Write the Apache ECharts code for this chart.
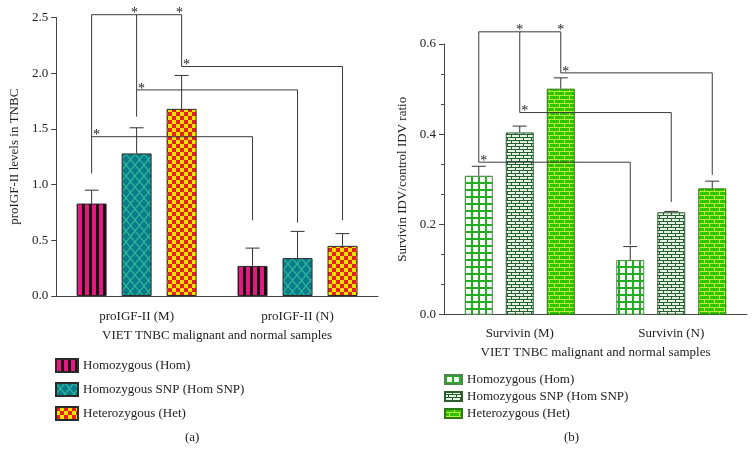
<!DOCTYPE html>
<html><head><meta charset="utf-8">
<script src="https://cdn.jsdelivr.net/npm/echarts@6/dist/echarts.min.js"></script>
<style>html,body{margin:0;padding:0;background:#fff}
#a{position:absolute;left:0;top:0;width:380px;height:451px}
#b{position:absolute;left:380px;top:0;width:375px;height:451px}</style>
</head><body><div id="a"></div><div id="b"></div>
<script>
// ---------- data ----------
const seriesNames = ['Homozygous (Hom)', 'Homozygous SNP (Hom SNP)', 'Heterozygous (Het)'];
const xAxisName = 'VIET TNBC malignant and normal samples';

// panel (a)
const categoriesA = ['proIGF-II (M)', 'proIGF-II (N)'];
const homA = [0.83, 0.27];
const snpA = [1.28, 0.34];
const hetA = [1.68, 0.45];
const homErrA = [0.12, 0.16];
const snpErrA = [0.23, 0.24];
const hetErrA = [0.30, 0.11];
const yMaxA = 2.5, yIntervalA = 0.5;
const topLevelA = 2.525;
// per series: [bracket level, M-side bottom, N-side bottom]
const bracketsA = [[1.43, 1.10, 0.68], [1.85, 1.61, 0.66], [2.06, 2.06, 0.68]];

// panel (b)
const categoriesB = ['Survivin (M)', 'Survivin (N)'];
const homB = [0.308, 0.121];
const snpB = [0.404, 0.227];
const hetB = [0.501, 0.280];
const homErrB = [0.021, 0.030];
const snpErrB = [0.014, 0.002];
const hetErrB = [0.024, 0.016];
const yMaxB = 0.6, yIntervalB = 0.2;
const topLevelB = 0.627;
const bracketsB = [[0.338, 0.338, 0.155], [0.448, 0.448, 0.25], [0.536, 0.536, 0.31]];

// ---------- helpers ----------
const FONT = 'Liberation Serif';
function pat(w, h, draw) {
  const c = document.createElement('canvas'); c.width = w; c.height = h;
  const g = c.getContext('2d'); draw(g, w, h);
  return { image: c, repeat: 'repeat' };
}
const patA = [
  pat(7, 7, g => { g.fillStyle = '#e2197e'; g.fillRect(0, 0, 7, 7); g.fillStyle = '#1c0a12'; g.fillRect(5, 0, 2, 7); g.fillRect(0, 0, 1, 7); }),
  pat(9, 11, g => { g.fillStyle = '#0b7b89'; g.fillRect(0, 0, 9, 11); g.strokeStyle = '#2bb89c'; g.lineWidth = 1.2;
    g.beginPath(); g.moveTo(0, 0); g.lineTo(9, 11); g.moveTo(9, 0); g.lineTo(0, 11); g.stroke(); }),
  pat(8, 8, g => { g.fillStyle = '#f6e200'; g.fillRect(0, 0, 8, 8); g.fillStyle = '#e6201b'; g.fillRect(0, 0, 4, 4); g.fillRect(4, 4, 4, 4); })
];
const patB = [
  pat(7, 7, g => { g.fillStyle = '#22ad22'; g.fillRect(0, 0, 7, 7); g.fillStyle = '#fbfffb'; g.fillRect(2, 2, 5, 5); }),
  pat(8, 6, g => { g.fillStyle = '#245f2c'; g.fillRect(0, 0, 8, 6); g.fillStyle = '#e6f2e6';
    g.fillRect(0, 0, 7, 2); g.fillRect(4, 3, 7, 2); g.fillRect(0, 3, 3, 2); }),
  pat(10, 8, g => { g.fillStyle = '#b4ee3c'; g.fillRect(0, 0, 10, 8); g.fillStyle = '#33c400';
    g.fillRect(0, 0, 9, 3); g.fillRect(5, 4, 9, 3); g.fillRect(0, 4, 4, 3); })
];

function buildSegments(top, br) {
  const seg = [[0, 0, top, 0, 2, top]];
  br.forEach((b, i) => {
    seg.push([0, i, top, 0, i, b[1]]);
    seg.push([0, i, b[0], 1, i, b[0]]);
    seg.push([1, i, b[0], 1, i, b[2]]);
  });
  return seg;
}
function buildStars(top, br) {
  const st = [[0, 1, top, 'top'], [0, 2, top, 'top']];
  br.forEach((b, i) => st.push([0, i, b[0], 'pair']));
  return st;
}

function makeOption(o) {
  const step = o.barWidth + o.gap;
  const xOf = (api, cat, s) => api.coord([cat, 0])[0] + (s - 1) * step;
  const yOf = (api, v) => api.coord([0, v])[1];
  const vals = [o.hom, o.snp, o.het], errs = [o.homErr, o.snpErr, o.hetErr];
  const errData = [];
  vals.forEach((arr, s) => arr.forEach((v, c) => errData.push([c, v + errs[s][c], s, v])));
  const segs = buildSegments(o.top, o.brackets);
  const stars = buildStars(o.top, o.brackets);
  const axisColor = '#444';
  const series = vals.map((arr, s) => ({
    type: 'bar', name: seriesNames[s], data: arr, barWidth: o.barWidth, barGap: (o.gap / o.barWidth * 100) + '%',
    itemStyle: { color: o.pats[s], borderColor: o.borders[s], borderWidth: 1 }, z: 2
  }));
  series.push({
    type: 'custom', name: 'err', data: errData, encode: { x: 0, y: 1 }, z: 3, clip: false,
    renderItem: (p, api) => {
      const d = errData[p.dataIndex];
      const x = xOf(api, d[0], d[2]), y1 = yOf(api, d[3]), y2 = yOf(api, d[1]);
      return { type: 'group', children: [
        { type: 'line', shape: { x1: x, y1: y1, x2: x, y2: y2 }, style: { stroke: '#333', lineWidth: 1 } },
        { type: 'line', shape: { x1: x - 7, y1: y2, x2: x + 7, y2: y2 }, style: { stroke: '#333', lineWidth: 1 } }
      ] };
    }
  });
  series.push({
    type: 'custom', name: 'brackets', data: segs, encode: { x: 0, y: 2 }, z: 4, clip: false,
    renderItem: (p, api) => {
      const d = segs[p.dataIndex];
      return { type: 'line', shape: { x1: xOf(api, d[0], d[1]), y1: yOf(api, d[2]), x2: xOf(api, d[3], d[4]), y2: yOf(api, d[5]) },
        style: { stroke: '#3a3a3a', lineWidth: 1 } };
    }
  });
  series.push({
    type: 'custom', name: 'stars', data: stars, encode: { x: 0, y: 2 }, z: 5, clip: false,
    renderItem: (p, api) => {
      const d = stars[p.dataIndex];
      const x = xOf(api, d[0], d[1]) + (d[3] === 'top' ? o.topDx : 5);
      return { type: 'text', x: x, y: yOf(api, d[2]) + 6,
        style: { text: '*', fill: '#222', font: '14px "' + FONT + '"', align: 'center', verticalAlign: 'bottom' } };
    }
  });
  return {
    animation: false,
    grid: o.grid,
    legend: {
      orient: 'vertical', left: o.legend.left, top: o.legend.top, itemWidth: o.legend.w, itemHeight: o.legend.h,
      itemGap: o.legend.gap, icon: 'rect', data: seriesNames, padding: 0,
      textStyle: { fontFamily: FONT, fontSize: 13, color: '#222' }
    },
    xAxis: {
      type: 'category', data: o.categories,
      axisLine: { lineStyle: { color: axisColor } },
      axisTick: { alignWithLabel: true, length: 5, lineStyle: { color: axisColor } },
      axisLabel: { fontFamily: FONT, fontSize: 13, color: '#222', margin: o.xLabelMargin },
      name: xAxisName, nameLocation: 'middle', nameGap: o.xNameGap,
      nameTextStyle: { fontFamily: FONT, fontSize: 13, color: '#222' }
    },
    yAxis: {
      type: 'value', min: 0, max: o.yMax, interval: o.yInterval,
      axisLine: { show: true, lineStyle: { color: axisColor } },
      axisTick: { show: true, length: 5, lineStyle: { color: axisColor } },
      minorTick: o.minor ? { show: true, splitNumber: 3, length: 3, lineStyle: { color: axisColor } } : { show: false },
      splitLine: { show: false },
      axisLabel: { fontFamily: FONT, fontSize: 13, color: '#222', margin: o.yLabelMargin, formatter: v => v.toFixed(1) },
      name: o.yName, nameLocation: 'middle', nameGap: o.yNameGap,
      nameTextStyle: { fontFamily: FONT, fontSize: 13, color: '#222' }
    },
    graphic: [{ type: 'text', left: o.tag.x, top: o.tag.y,
      style: { text: o.tag.t, font: '13px "' + FONT + '"', fill: '#222' } }],
    series: series
  };
}

const chartA = echarts.init(document.getElementById('a'));
chartA.setOption(makeOption({
  categories: categoriesA, hom: homA, snp: snpA, het: hetA, homErr: homErrA, snpErr: snpErrA, hetErr: hetErrA,
  yMax: yMaxA, yInterval: yIntervalA, top: topLevelA, brackets: bracketsA, topDx: -2,
  barWidth: 30, gap: 15, pats: patA, borders: ['#2a2a2a', '#2a2a2a', '#2a2a2a'],
  grid: { left: 54, top: 17.5, width: 324, height: 278.5 },
  legend: { left: 55, top: 358, w: 22, h: 13, gap: 9 },
  xLabelMargin: 14, xNameGap: 33, yLabelMargin: 8, yNameGap: 27, minor: false,
  yName: 'proIGF-II levels in TNBC',
  tag: { x: 185, y: 431, t: '(a)' }
}));

const chartB = echarts.init(document.getElementById('b'));
chartB.setOption(makeOption({
  categories: categoriesB, hom: homB, snp: snpB, het: hetB, homErr: homErrB, snpErr: snpErrB, hetErr: hetErrB,
  yMax: yMaxB, yInterval: yIntervalB, top: topLevelB, brackets: bracketsB, topDx: 0,
  barWidth: 28, gap: 13, pats: patB, borders: ['#4a8a4a', '#2e5e2e', '#2d7a14'],
  grid: { left: 64, top: 44, width: 303, height: 270.7 },
  legend: { left: 64, top: 373, w: 17, h: 9, gap: 4 },
  xLabelMargin: 12, xNameGap: 31, yLabelMargin: 8, yNameGap: 28, minor: true,
  yName: 'Survivin IDV/control IDV ratio',
  tag: { x: 184, y: 431, t: '(b)' }
}));
</script></body></html>
